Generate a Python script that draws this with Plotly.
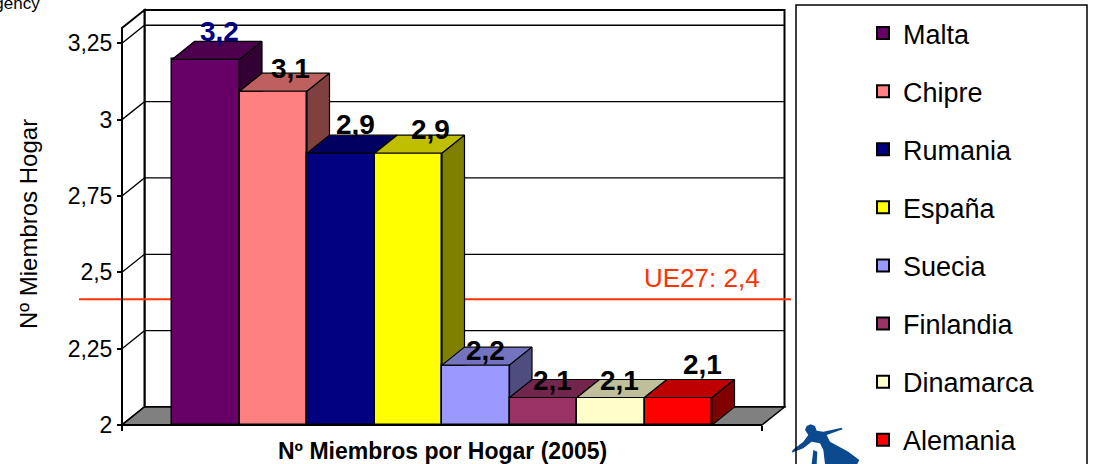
import plotly.graph_objects as go

paises = ["Malta", "Chipre", "Rumania", "España", "Suecia", "Finlandia", "Dinamarca", "Alemania"]
valores = [3.197, 3.093, 2.89, 2.89, 2.196, 2.09, 2.09, 2.09]
etiquetas = ["3,2", "3,1", "2,9", "2,9", "2,2", "2,1", "2,1", "2,1"]
frente = ["#660066", "#FF8080", "#000080", "#FFFF00", "#9999FF", "#993366", "#FFFFCC", "#FF0000"]
tapa = ["#4D004D", "#BF6060", "#000060", "#BFBF00", "#7373BF", "#73264D", "#BFBF99", "#BF0000"]
lado = ["#330033", "#804040", "#000040", "#808000", "#4D4D80", "#4D1A33", "#808066", "#800000"]
ticks_y = [2, 2.25, 2.5, 2.75, 3, 3.25]
ticks_txt = ["2", "2,25", "2,5", "2,75", "3", "3,25"]
ue27 = 2.412

W, H = 1095, 464
L, R, T, B = 122, 762, 28, 425
px_x = 67.5
px_y = (B - T) / 1.3
dx = 22.5 / px_x
dy = 18 / px_y
x0 = -0.5 - 50 / px_x
x1 = 7.5 + 50 / px_x
top = 3.3
FONT = "Liberation Sans, Arial, sans-serif"
label_shift_x = [14, 17, 15, 22, 10, 9, 9, 24]
label_shift_y = [28, 23, 29, 24, 15, 17, 17, 33]


def fx(v):
    return v / W


def fy(v):
    return 1 - v / H


def path(points):
    return "M" + "L".join(f"{a},{b}" for a, b in points) + "Z"


fig = go.Figure()


def poly(xs, ys, fill, lw=1.2):
    fig.add_trace(go.Scatter(x=xs, y=ys, mode="lines", fill="toself", fillcolor=fill,
                             line=dict(color="black", width=lw), showlegend=False,
                             hoverinfo="skip"))


shapes = []


def back_shape(points, fill, lw):
    shapes.append(dict(type="path", xref="x", yref="y", layer="below", path=path(points),
                       fillcolor=fill, line=dict(color="black", width=lw)))


# walls and floor
back_shape([(x0 + dx, 2 + dy), (x1 + dx, 2 + dy), (x1 + dx, top + dy), (x0 + dx, top + dy)], "white", 2)
back_shape([(x0, 2), (x0 + dx, 2 + dy), (x0 + dx, top + dy), (x0, top)], "white", 2)
back_shape([(x0, 2), (x1, 2), (x1 + dx, 2 + dy), (x0 + dx, 2 + dy)], "#808080", 1.5)
for t in ticks_y[1:]:
    shapes.append(dict(type="path", xref="x", yref="y", layer="below",
                       path=f"M{x0},{t}L{x0 + dx},{t + dy}L{x1 + dx},{t + dy}",
                       line=dict(color="black", width=1.3)))
# EU average, behind the bars
shapes.append(dict(type="line", xref="x", yref="y", layer="below",
                   x0=x0 - 43 / px_x, x1=x1 + 29 / px_x, y0=ue27, y1=ue27,
                   line=dict(color="#FF3300", width=2)))

# bars
for i, (p, v) in enumerate(zip(paises, valores)):
    fig.add_trace(go.Bar(x=[i], y=[v - 2], base=2, width=1, name=p,
                         marker=dict(color=frente[i], line=dict(color="black", width=1.5)),
                         legendgroup=p, hoverinfo="skip"))

for i, v in enumerate(valores):
    poly([i - .5, i + .5, i + .5 + dx, i - .5 + dx, i - .5], [v, v, v + dy, v + dy, v], tapa[i])
    if i + 1 < len(valores):
        vn = valores[i + 1]
        if vn < v:
            poly([i + .5, i + .5 + dx, i + .5 + dx, i + .5, i + .5], [vn, vn, v + dy, v, vn], lado[i])
    else:
        poly([i + .5, i + .5 + dx, i + .5 + dx, i + .5, i + .5], [2, 2 + dy, v + dy, v, 2], lado[i])

# axis lines
fig.add_trace(go.Scatter(x=[x0, x0, None, x0, x1], y=[2, top, None, 2, 2], mode="lines",
                         line=dict(color="black", width=2), showlegend=False, hoverinfo="skip"))

anns = [dict(x=i, y=v, xref="x", yref="y", text=f"<b>{t}</b>", showarrow=False,
             xshift=label_shift_x[i], yshift=label_shift_y[i],
             font=dict(family=FONT, size=28, color="#000080" if i == 0 else "black"))
        for i, (v, t) in enumerate(zip(valores, etiquetas))]
anns += [
    dict(xref="paper", yref="paper", x=fx(702), y=fy(278), text="UE27: 2,4", xanchor="center", yanchor="middle",
         showarrow=False, font=dict(family=FONT, size=26, color="#FF3300")),
    dict(xref="paper", yref="paper", x=fx(442), y=fy(451), text="<b>Nº Miembros por Hogar (2005)</b>",
         xanchor="center", yanchor="middle", showarrow=False, font=dict(family=FONT, size=23, color="black")),
    dict(xref="paper", yref="paper", x=fx(28), y=fy(224), text="Nº Miembros Hogar", textangle=-90,
         xanchor="center", yanchor="middle", showarrow=False, font=dict(family=FONT, size=24, color="black")),
    dict(xref="paper", yref="paper", x=fx(42), y=fy(3), text="Agency", xanchor="right", yanchor="middle",
         showarrow=False, font=dict(family=FONT, size=17, color="black")),
    dict(xref="paper", yref="paper", x=fx(113), y=fy(471), text="Fuente: Elaboración propia a partir de datos de Eurostat",
         xanchor="left", yanchor="middle", showarrow=False, font=dict(family=FONT, size=18, color="black")),
]

# logo (decorative figure), in page pixels
logo_a = [(105, 90), (110, 78), (122, 73), (135, 78), (140, 92), (160, 95), (215, 83), (218, 88), (170, 105),
          (180, 125), (235, 155), (268, 180), (262, 192), (165, 192), (160, 150), (150, 130), (125, 125),
          (100, 145), (65, 158), (68, 150), (100, 125), (115, 105)]
logo_b = [(130, 150), (142, 155), (140, 192), (125, 192)]
for pts in (logo_a, logo_b):
    shapes.append(dict(type="path", xref="paper", yref="paper",
                       path=path([(fx(770 + a / 3), fy(400 + b / 3)) for a, b in pts]),
                       fillcolor="#0B4A8F", line=dict(width=0)))
shapes.append(dict(type="rect", xref="paper", yref="paper", x0=fx(796), x1=fx(1087), y0=fy(480), y1=fy(5),
                   line=dict(color="black", width=1.5), fillcolor="rgba(0,0,0,0)"))

fig.update_layout(
    width=W, height=H,
    margin=dict(l=0, r=0, t=0, b=0),
    plot_bgcolor="white", paper_bgcolor="white",
    barmode="overlay", bargap=0,
    showlegend=True,
    legend=dict(x=fx(863), xanchor="left", y=fy(20), yanchor="top",
                font=dict(family=FONT, size=27, color="black"), maxheight=464,
                tracegroupgap=20, itemsizing="constant", borderwidth=0, bgcolor="rgba(0,0,0,0)",
                traceorder="grouped"),
    xaxis=dict(range=[x0 - L / px_x, x1 + (W - R) / px_x], anchor="free", position=1 - B / H,
               showgrid=False, zeroline=False, showticklabels=False, tickmode="array", tickvals=[x0, x1],
               ticks="outside", ticklen=5, tickwidth=1.5, tickcolor="black", showline=False),
    yaxis=dict(range=[2 - (H - B) / px_y, 2 + B / px_y], anchor="free", position=L / W,
               showgrid=False, zeroline=False, tickmode="array", tickvals=ticks_y, ticktext=ticks_txt,
               ticks="outside", ticklen=5, tickwidth=1.5, tickcolor="black",
               tickfont=dict(family=FONT, size=23, color="black"), showline=False),
    annotations=anns,
    shapes=shapes,
)
fig.write_html("out.html", config=dict(displayModeBar=False),
               post_script="document.body.style.margin='0';document.body.style.overflow='hidden';")
